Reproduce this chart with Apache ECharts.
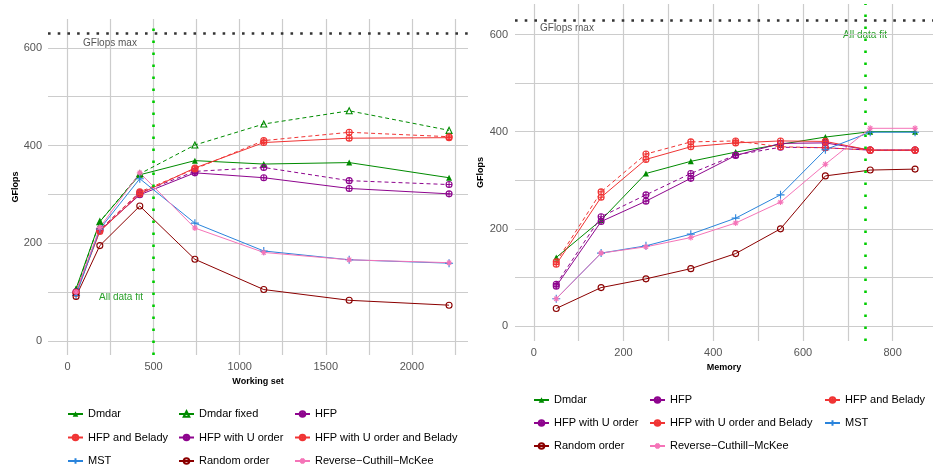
<!DOCTYPE html>
<html>
<head>
<meta charset="utf-8">
<script src="https://cdn.jsdelivr.net/npm/echarts@6/dist/echarts.min.js"></script>
<style>
html,body{margin:0;padding:0;background:#fff}
#chart{width:934px;height:471px}
</style>
</head>
<body>
<div id="chart"></div>
<script>
// left panel, x = working set
var wsX = [50, 188, 420, 740, 1140, 1636, 2216];
var wsDmdar = [107, 244, 340, 369, 362, 365, 334];
var wsDmdarFixed = [104, 244, 342, 401, 444, 471, 431];
var wsHfp = [100, 226, 299, 344, 334, 312, 301];
var wsHfpU = [100, 228, 303, 347, 355, 328, 320];
var wsHfpBelady = [97, 224, 301, 354, 406, 415, 416];
var wsHfpUBelady = [99, 227, 305, 352, 410, 427, 418];
var wsMst = [93, 229, 332, 241, 184, 166, 159];
var wsRcm = [100, 232, 344, 231, 181, 166, 160];
var wsRandom = [91, 195, 276, 167, 105, 83, 73];

// right panel, x = memory
var memX = [50, 150, 250, 350, 450, 550, 650, 750, 850];
var memDmdar = [141, 218, 314, 339, 358, 374, 389, 400, 400];
var memHfp = [82, 215, 257, 304, 351, 376, 377, 362, 362];
var memHfpU = [86, 225, 270, 314, 352, 368, 367, 362, 362];
var memHfpBelady = [127, 265, 343, 369, 377, 381, 380, 362, 362];
var memHfpUBelady = [132, 276, 354, 379, 381, 369, 367, 362, 362];
var memMst = [56, 150, 165, 189, 222, 270, 363, 399, 399];
var memRcm = [56, 150, 163, 182, 212, 255, 333, 407, 407];
var memRandom = [36, 79, 97, 118, 149, 200, 309, 321, 323];

var GFLOPS_MAX = 630;
var FIT_WS = 498;
var FIT_MEM = 738;

var wsTicks = [0, 250, 500, 750, 1000, 1250, 1500, 1750, 2000, 2250];
var wsLabels = [0, 500, 1000, 1500, 2000];
var memTicks = [0, 100, 200, 300, 400, 500, 600, 700, 800];
var memLabels = [0, 200, 400, 600, 800];
var yTicks = [0, 100, 200, 300, 400, 500, 600];
var yLabels = [0, 200, 400, 600];

var C_DMDAR = '#008B00', C_HFP = '#8E058E', C_RED = '#F03434', C_MST = '#2A84DC',
    C_RAND = '#8B0000', C_RCM = '#F574B8', C_FIT = '#00CC00';

var S_TRI = 'triangle';
var S_OTRI = 'path://M0,-10L8.66,5L-8.66,5Z';
var S_OPLUS = 'path://M10,0A10,10,0,1,1,-10,0A10,10,0,1,1,10,0ZM-10,0L10,0M0,-10L0,10';
var S_OCIRC = 'path://M10,0A10,10,0,1,1,-10,0A10,10,0,1,1,10,0Z';
var S_PLUS = 'path://M-10,0L10,0M0,-10L0,10';
var S_STAR = 'path://M-10,0L10,0M0,-10L0,10M-7,-7L7,7M-7,7L7,-7';

var FONT = 'Liberation Sans, Arial, sans-serif';

function pts(xs, ys) {
  return xs.map(function (x, i) { return [x, ys[i]]; });
}

function line(name, gi, xs, ys, color, symbol, dashed, size) {
  var filled = symbol === S_TRI;
  return {
    name: name, type: 'line', xAxisIndex: gi, yAxisIndex: gi,
    data: pts(xs, ys),
    symbol: symbol, symbolSize: size || 6,
    color: color,
    lineStyle: {color: color, width: 1, type: dashed ? [4, 3] : 'solid'},
    itemStyle: {color: filled ? color : 'rgba(0,0,0,0)', borderColor: color, borderWidth: filled ? 0 : 1.1},
    emphasis: {disabled: true}
  };
}

function refLines(xVal) {
  return {
    silent: true, symbol: 'none', label: {show: false}, animation: false,
    data: [
      {yAxis: GFLOPS_MAX, lineStyle: {color: '#333', width: 2.6, type: [2.6, 7.1]}},
      {xAxis: xVal, lineStyle: {color: C_FIT, width: 2.6, type: [2.6, 9.4]}}
    ]
  };
}

function plain(v) { return String(v); }

function xAxis(gi, min, max, ticks, labels, name, gap) {
  return {
    type: 'value', gridIndex: gi, min: min, max: max,
    name: name, nameLocation: 'middle', nameGap: gap,
    nameTextStyle: {fontFamily: FONT, fontSize: 9, fontWeight: 'bold', color: '#000'},
    axisLine: {show: false},
    axisTick: {show: false, customValues: ticks},
    axisLabel: {customValues: labels, formatter: plain, color: '#555', fontSize: 11, fontFamily: FONT, margin: 6},
    splitLine: {show: true, lineStyle: {color: '#cccccc', width: 1.2}}
  };
}

function yAxis(gi, min, max, gap, margin) {
  return {
    type: 'value', gridIndex: gi, min: min, max: max,
    name: 'GFlops', nameLocation: 'middle', nameGap: gap,
    nameTextStyle: {fontFamily: FONT, fontSize: 9, fontWeight: 'bold', color: '#000'},
    axisLine: {show: false},
    axisTick: {show: false, customValues: yTicks},
    axisLabel: {customValues: yLabels, formatter: plain, color: '#555', fontSize: 11, fontFamily: FONT, margin: margin},
    splitLine: {show: true, lineStyle: {color: '#cccccc', width: 1.2}}
  };
}

function legend(left, top, gap, names) {
  return {
    orient: 'vertical', left: left, top: top, itemGap: gap, padding: 0,
    width: 200, height: 80,
    itemWidth: 15, itemHeight: 7, selectedMode: false,
    lineStyle: {type: 'solid'},
    textStyle: {fontFamily: FONT, fontSize: 11, color: '#000', lineHeight: 14},
    data: names
  };
}

var dmdarL = line('Dmdar', 0, wsX, wsDmdar, C_DMDAR, S_TRI, false);
dmdarL.markLine = refLines(FIT_WS);
var dmdarR = line('Dmdar', 1, memX, memDmdar, C_DMDAR, S_TRI, false);
dmdarR.markLine = refLines(FIT_MEM);

var series = [
  dmdarL,
  line('Dmdar fixed', 0, wsX, wsDmdarFixed, C_DMDAR, S_OTRI, true),
  line('HFP', 0, wsX, wsHfp, C_HFP, S_OPLUS, false),
  line('HFP with U order', 0, wsX, wsHfpU, C_HFP, S_OPLUS, true),
  line('HFP and Belady', 0, wsX, wsHfpBelady, C_RED, S_OPLUS, false),
  line('HFP with U order and Belady', 0, wsX, wsHfpUBelady, C_RED, S_OPLUS, true),
  line('MST', 0, wsX, wsMst, C_MST, S_PLUS, false, 8),
  line('Random order', 0, wsX, wsRandom, C_RAND, S_OCIRC, false),
  line('Reverse\u2212Cuthill\u2212McKee', 0, wsX, wsRcm, C_RCM, S_STAR, false),
  dmdarR,
  line('HFP', 1, memX, memHfp, C_HFP, S_OPLUS, false),
  line('HFP with U order', 1, memX, memHfpU, C_HFP, S_OPLUS, true),
  line('HFP and Belady', 1, memX, memHfpBelady, C_RED, S_OPLUS, false),
  line('HFP with U order and Belady', 1, memX, memHfpUBelady, C_RED, S_OPLUS, true),
  line('MST', 1, memX, memMst, C_MST, S_PLUS, false, 8),
  line('Random order', 1, memX, memRandom, C_RAND, S_OCIRC, false),
  line('Reverse\u2212Cuthill\u2212McKee', 1, memX, memRcm, C_RCM, S_STAR, false)
];

var chart = echarts.init(document.getElementById('chart'), null, {renderer: 'canvas'});
chart.setOption({
  animation: false,
  backgroundColor: '#fff',
  grid: [
    {left: 48, top: 19, width: 420, height: 336},
    {left: 515, top: 4, width: 418, height: 337}
  ],
  xAxis: [
    xAxis(0, -113, 2326, wsTicks, wsLabels, 'Working set', 13),
    xAxis(1, -42, 890, memTicks, memLabels, 'Memory', 19)
  ],
  yAxis: [
    yAxis(0, -29, 659, 28, 6),
    yAxis(1, -31, 663, 30, 7)
  ],
  legend: [
    legend(67, 407, 9.5, ['Dmdar', 'HFP and Belady', 'MST']),
    legend(178, 407, 9.5, ['Dmdar fixed', 'HFP with U order', 'Random order']),
    legend(294, 407, 9.5, ['HFP', 'HFP with U order and Belady', 'Reverse\u2212Cuthill\u2212McKee']),
    legend(533, 393, 9, ['Dmdar', 'HFP with U order', 'Random order']),
    legend(649, 393, 9, ['HFP', 'HFP with U order and Belady', 'Reverse\u2212Cuthill\u2212McKee']),
    legend(824, 393, 9, ['HFP and Belady', 'MST'])
  ],
  graphic: [
    {type: 'text', x: 83, y: 43, style: {text: 'GFlops max', fontFamily: FONT, fontSize: 10, fill: '#555', verticalAlign: 'middle'}},
    {type: 'text', x: 540, y: 28, style: {text: 'GFlops max', fontFamily: FONT, fontSize: 10, fill: '#555', verticalAlign: 'middle'}},
    {type: 'text', x: 99, y: 297, style: {text: 'All data fit', fontFamily: FONT, fontSize: 10, fill: '#2ca02c', verticalAlign: 'middle'}},
    {type: 'text', x: 843, y: 35, style: {text: 'All data fit', fontFamily: FONT, fontSize: 10, fill: '#2ca02c', verticalAlign: 'middle'}}
  ],
  series: series
});
</script>
</body>
</html>
